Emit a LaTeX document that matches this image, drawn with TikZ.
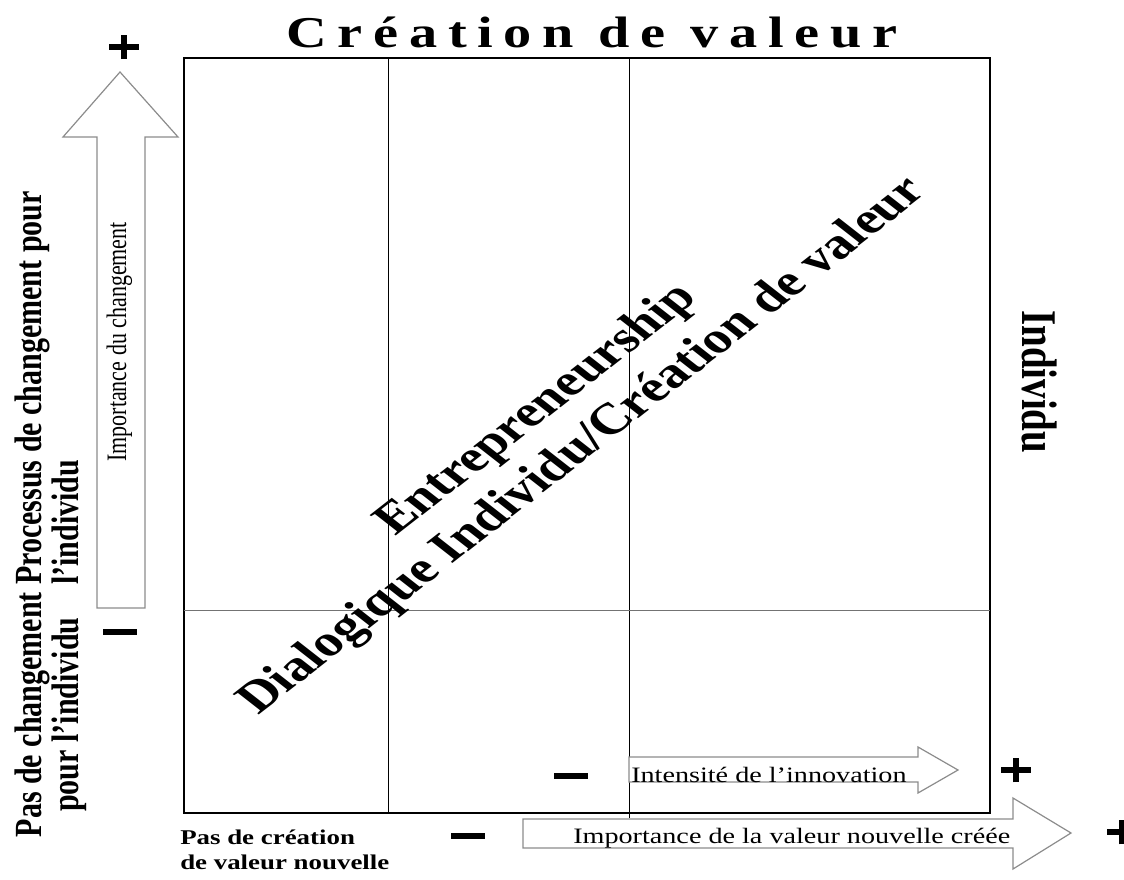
\documentclass[tikz,border=0pt]{standalone}
\usepackage{fontspec}
\setmainfont{Liberation Serif}
\newfontfamily\titlefont[LetterSpace=19]{Liberation Serif}
\usetikzlibrary{positioning}

% heavy plus mark, drawn from two rules
\newcommand{\plusmark}{\rule[9.5pt]{23pt}{5.5pt}\kern-14pt\rule{5pt}{24.5pt}\kern9pt}

\tikzset{
	blockarrow/.style={draw=black!45, fill=white, line width=1.2pt, line join=miter},
	gridline/.style={line width=0.9pt},
	sidelabel/.style={font=\fontsize{30}{27.3}\selectfont\bfseries, rotate=90, inner sep=0pt},
	arrowtext/.style={font=\fontsize{22}{24}\selectfont, inner sep=0pt},
	diagtext/.style={font=\fontsize{44}{46}\selectfont\bfseries, rotate=45, inner sep=0pt},
	plussign/.style={inner sep=0pt},
	minussign/.style={fill=black, inner sep=0pt, minimum width=27pt, minimum height=5.5pt},
}

\begin{document}
\begin{tikzpicture}[x=0.78125pt, y=-1pt, xscale=1.28, transform shape]

	\useasboundingbox (0,0) rectangle (1124,880);

	% frame and grid
	\draw[line width=1.2pt] (184,58) rectangle (990,813);
	\draw[gridline] (388,58) -- (388,813);
	\draw[gridline] (629,58) -- (629,818);
	\draw[gridline, black!55] (184,610) -- (990,610);

	% title and right label
	\node[font=\titlefont\bfseries\fontsize{44}{46}\selectfont, inner sep=0pt, anchor=base] (title) at (592,48) {Création de valeur};
	\node[font=\fontsize{39}{40}\selectfont\bfseries, rotate=-90, inner sep=0pt, anchor=base west] (indiv) at (1022,310) {Individu};

	% vertical block arrow
	\draw[blockarrow] (97,608) -- (97,137) -- (63,137) -- (120,72) -- (178,137) -- (145,137) -- (145,608) -- cycle;
	\node[arrowtext, rotate=90, anchor=base east] (imptchg) at (126,222) {Importance du changement};
	\node[plussign] (plustop) at (124,47) {\plusmark};
	\node[minussign] (minusleft) at (120,632) {};

	% left labels
	\node[sidelabel, align=left, anchor=north west] (processus) at (15,585) {Processus de changement pour\\l'individu};
	\node[sidelabel, align=center, anchor=north east] (paschg) at (15,592) {Pas de changement\\pour l'individu};

	% diagonal texts
	\node[diagtext, anchor=base west] (entre) at (395,537) {Entrepreneurship};
	\node[diagtext, anchor=base west] (dialog) at (258,716) {Dialogique Individu/Création de valeur};

	% horizontal block arrows
	\draw[blockarrow] (629,757) -- (918,757) -- (918,747) -- (958,770) -- (918,793) -- (918,782) -- (629,782) -- cycle;
	\node[arrowtext, anchor=base west] (intens) at (631,782) {Intensité de l'innovation};
	\node[minussign] (minusint) at (571,776) {};
	\node[plussign] (plusint) at (1016,770) {\plusmark};

	\draw[blockarrow] (523,819) -- (1013,819) -- (1013,798) -- (1071,833) -- (1013,869) -- (1013,848) -- (523,848) -- cycle;
	\node[arrowtext, anchor=base west] (valeur) at (573,843) {Importance de la valeur nouvelle créée};
	\node[minussign] (minusval) at (468,836) {};
	\node[plussign] (plusval) at (1122,832) {\plusmark};

	% bottom left label
	\node[font=\fontsize{21}{25}\selectfont\bfseries, inner sep=0pt, align=left, anchor=north west] (pasval) at (180,830) {Pas de création\\de valeur nouvelle};

\end{tikzpicture}
\end{document}
